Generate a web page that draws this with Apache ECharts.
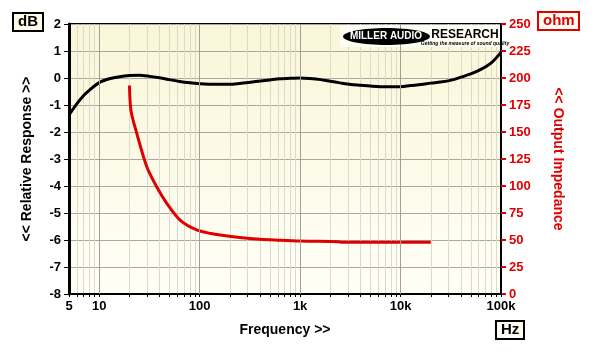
<!DOCTYPE html>
<html>
<head>
<meta charset="utf-8">
<script src="https://cdn.jsdelivr.net/npm/echarts@6/dist/echarts.min.js"></script>
<style>
html,body{margin:0;padding:0;background:#fff;}
#c{width:600px;height:356px;}
</style>
</head>
<body>
<div id="c"></div>
<script>
// ---- data ----
var respFreq = [5, 6, 7, 8, 10, 12.6, 16, 20, 25, 32, 40, 50, 63, 80, 100, 130, 160, 200, 250, 320, 400, 500, 630, 800, 1000, 1250, 1600, 2000, 2500, 3200, 4000, 5000, 6300, 8000, 10000, 12500, 16000, 20000, 25000, 32000, 40000, 50000, 63000, 80000, 100000];
var respDb = [-1.37, -0.95, -0.65, -0.45, -0.17, -0.03, 0.05, 0.09, 0.1, 0.06, 0.01, -0.06, -0.13, -0.18, -0.21, -0.23, -0.23, -0.23, -0.2, -0.16, -0.11, -0.07, -0.03, -0.01, 0.0, -0.02, -0.06, -0.12, -0.18, -0.24, -0.27, -0.3, -0.32, -0.32, -0.32, -0.28, -0.24, -0.19, -0.15, -0.08, 0.03, 0.15, 0.32, 0.56, 0.95];
var impFreq = [20, 20.7, 23.6, 29.7, 37.4, 47, 63.8, 93.5, 130, 160, 250, 400, 600, 1000, 2400, 2600, 5000, 10000, 20000];
var impOhm = [193, 170, 149, 118, 99, 84, 68.5, 59.3, 56, 54.6, 52.3, 50.6, 49.8, 49, 48.4, 47.9, 47.9, 47.9, 47.9];
var decadeTicks = [5, 10, 100, 1000, 10000, 100000];
var minorTicks = [5,6,7,8,9,10,20,30,40,50,60,70,80,90,100,200,300,400,500,600,700,800,900,1000,2000,3000,4000,5000,6000,7000,8000,9000,10000,20000,30000,40000,50000,60000,70000,80000,90000,100000];
var decadeLines = [10, 100, 1000, 10000];

function fmtHz(v){ return v >= 1000 ? (v/1000) + 'k' : String(v); }
function zip(a,b){ var r=[]; for(var i=0;i<a.length;i++) r.push([a[i],b[i]]); return r; }

var FONT = '"Liberation Sans", Arial, sans-serif';
var chart = echarts.init(document.getElementById('c'), null, {renderer:'canvas'});
var option = {
  backgroundColor: '#ffffff',
  animation: false,
  textStyle: {fontFamily: FONT},
  grid: {
    left: 69, right: 99, top: 24, bottom: 62,
    show: true, borderColor: '#000', borderWidth: 2,
    backgroundColor: new echarts.graphic.LinearGradient(0,0,0,1,[{offset:0,color:'#FAF6D8'},{offset:1,color:'#FFFFF8'}])
  },
  title: [
    {text:'dB', left:13, top:13, padding:[1,5,1,5], borderColor:'#000', borderWidth:2, backgroundColor:'#FFFBE6',
     textStyle:{fontFamily:FONT, fontWeight:'bold', fontSize:15, color:'#000', lineHeight:16}},
    {text:'ohm', left:538, top:12, padding:[1,5,1,5], borderColor:'#E00000', borderWidth:2, backgroundColor:'#FFFDF2',
     textStyle:{fontFamily:FONT, fontWeight:'bold', fontSize:15, color:'#E00000', lineHeight:16}},
    {text:'Hz', left:496, top:321, padding:[1,5,1,5], borderColor:'#000', borderWidth:2, backgroundColor:'#FFFDF2',
     textStyle:{fontFamily:FONT, fontWeight:'bold', fontSize:15, color:'#000', lineHeight:16}}
  ],
  xAxis: {
    type: 'log', min: 5, max: 100000, logBase: 10,
    name: 'Frequency >>', nameLocation: 'middle', nameGap: 29,
    nameTextStyle: {fontFamily:FONT, fontWeight:'bold', fontSize:14, color:'#000'},
    axisLine: {show:true, onZero:false, lineStyle:{color:'#000', width:2}},
    axisTick: {show:true, inside:false, length:3, lineStyle:{color:'#000'}, customValues: minorTicks},
    axisLabel: {customValues: decadeTicks, formatter: fmtHz, margin: 6, fontFamily:FONT, fontWeight:'bold', fontSize:13, color:'#000', showMinLabel:true, showMaxLabel:true},
    splitLine: {show:true, lineStyle:{color:'#DCDACB', width:1}}
  },
  yAxis: [
    {
      type:'value', min:-8, max:2, interval:1, position:'left',
      name:'<< Relative Response >>', nameLocation:'middle', nameGap:35, nameRotate:90,
      nameTextStyle:{fontFamily:FONT, fontWeight:'bold', fontSize:14, color:'#000'},
      axisLine:{show:true, lineStyle:{color:'#000', width:3}},
      axisTick:{show:true, length:5, lineStyle:{color:'#000'}},
      axisLabel:{margin:8, fontFamily:FONT, fontWeight:'bold', fontSize:13, color:'#000'},
      splitLine:{show:true, lineStyle:{color:'#A8A8A0', width:1}}
    },
    {
      type:'value', min:0, max:250, interval:25, position:'right',
      name:'<< Output Impedance', nameLocation:'middle', nameGap:50, nameRotate:-90,
      nameTextStyle:{fontFamily:FONT, fontWeight:'bold', fontSize:14, color:'#E00000'},
      axisLine:{show:true, lineStyle:{color:'#000', width:2}},
      axisTick:{show:true, length:5, lineStyle:{color:'#E00000', width:2}},
      axisLabel:{margin:8, fontFamily:FONT, fontWeight:'bold', fontSize:13, color:'#E00000'},
      splitLine:{show:false}
    }
  ],
  graphic: [
    {type:'rect', shape:{x:340, y:25, width:160, height:22}, style:{fill:'#FFFEF4'}, z:5},
    {type:'ellipse', shape:{cx:386.5, cy:36.5, rx:43.5, ry:8.5}, style:{fill:'#000'}, z:6},
    {type:'text', x:386, y:36.5, style:{text:'MILLER AUDIO', fill:'#fff', font:'bold 10px "Liberation Sans", Arial', align:'center', verticalAlign:'middle'}, z:7},
    {type:'text', x:465, y:35, style:{text:'RESEARCH', fill:'#000', font:'bold 12px "Liberation Sans", Arial', align:'center', verticalAlign:'middle'}, z:7},
    {type:'text', x:465, y:44, style:{text:'Getting the measure of sound quality', fill:'#000', font:'italic bold 5px "Liberation Sans", Arial', align:'center', verticalAlign:'middle'}, z:7}
  ],
  series: [
    {
      type:'line', xAxisIndex:0, yAxisIndex:0, data: zip(respFreq, respDb),
      showSymbol:false, smooth:0.3, lineStyle:{color:'#000', width:3}, z:4,
      markLine:{silent:true, symbol:'none', label:{show:false}, lineStyle:{color:'#A0A09A', type:'solid', width:1},
        data: decadeLines.map(function(v){return {xAxis:v};})}
    },
    {
      type:'line', xAxisIndex:0, yAxisIndex:1, data: zip(impFreq, impOhm),
      showSymbol:false, smooth:0.3, lineStyle:{color:'#E00000', width:3}, z:4
    }
  ]
};
chart.setOption(option);
</script>
</body>
</html>
